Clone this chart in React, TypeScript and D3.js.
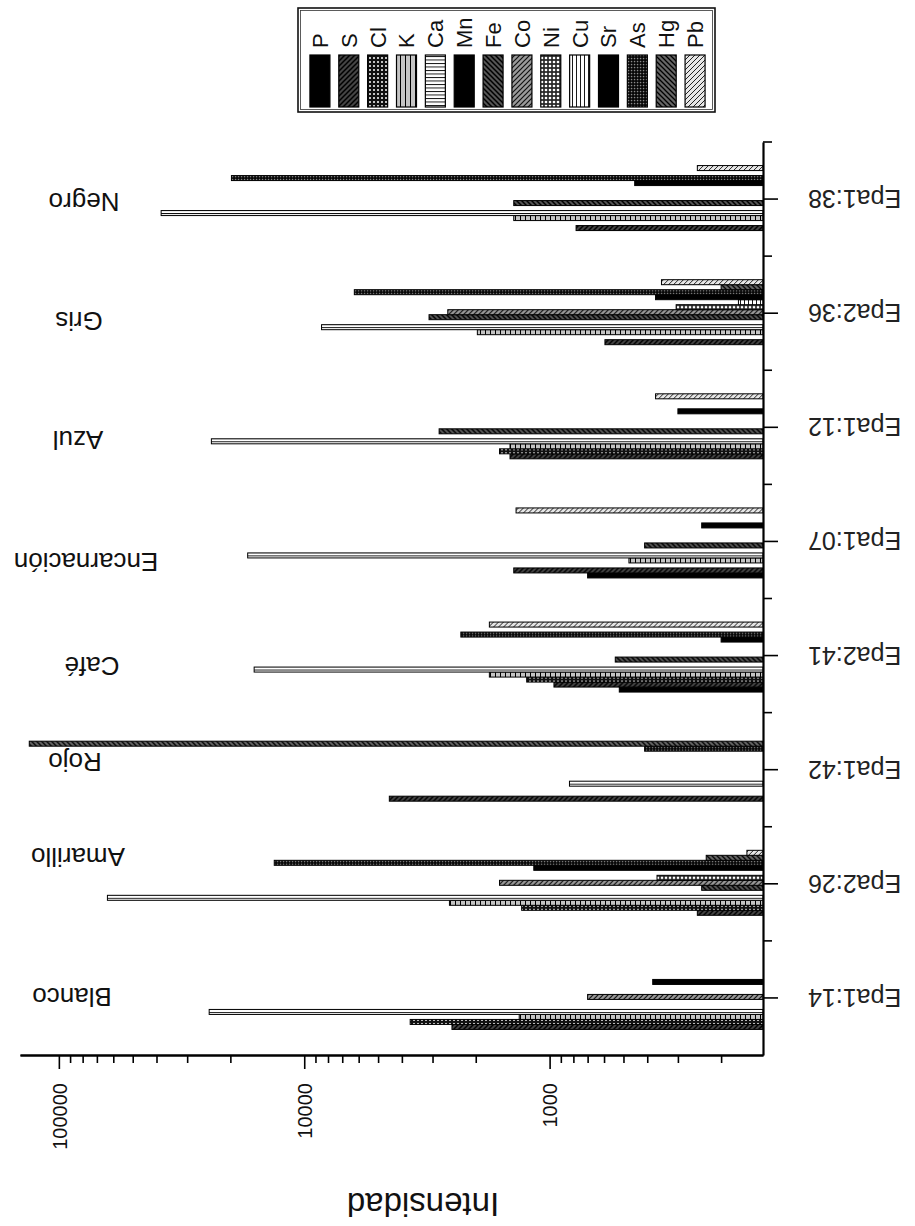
import * as d3 from 'd3';
import React, { useEffect, useRef } from 'react';

const elements = ['P', 'S', 'Cl', 'K', 'Ca', 'Mn', 'Fe', 'Co', 'Ni', 'Cu', 'Sr', 'As', 'Hg', 'Pb'];
const samples = ['Epa1:14', 'Epa2:26', 'Epa1:42', 'Epa2:41', 'Epa1:07', 'Epa1:12', 'Epa2:36', 'Epa1:38'];
const colourNames = ['Blanco', 'Amarillo', 'Rojo', 'Café', 'Encarnación', 'Azul', 'Gris', 'Negro'];

// intensity of each element, one value per sample (0 = not detected)
const P = [0, 0, 0, 520, 700, 0, 0, 0];
const S = [2500, 250, 4500, 960, 1400, 1450, 595, 780];
const Cl = [3700, 1300, 0, 1240, 0, 1600, 0, 0];
const K = [1330, 2560, 0, 1760, 475, 1450, 1970, 1400];
const Ca = [24400, 63400, 830, 16000, 17000, 23900, 8500, 38300];
const Mn = [0, 0, 0, 0, 0, 0, 0, 0];
const Fe = [0, 240, 0, 540, 410, 2820, 3100, 1400];
const Co = [700, 1600, 0, 0, 0, 0, 2600, 0];
const Ni = [0, 365, 0, 0, 0, 0, 305, 0];
const Cu = [0, 0, 0, 0, 0, 0, 170, 0];
const Sr = [380, 1160, 0, 200, 240, 300, 370, 450];
const As = [0, 13250, 410, 2300, 0, 0, 6250, 19800];
const Hg = [0, 230, 132000, 0, 0, 0, 200, 0];
const Pb = [0, 157, 0, 1760, 1370, 370, 350, 250];

const series = [P, S, Cl, K, Ca, Mn, Fe, Co, Ni, Cu, Sr, As, Hg, Pb];

const majorTicks = [1000, 10000, 100000];
const minorTicks = [200, 300, 400, 500, 600, 700, 800, 900, 2000, 3000, 4000, 5000, 6000, 7000, 8000, 9000,
  20000, 30000, 40000, 50000, 60000, 70000, 80000, 90000];

// where the colour names sit (offset from the group centre), layout only
const nameX = [72, 78, 75, 92, 86, 78, 79, 84];
const nameDy = [-1, -26, -7, 11, 21, 13, 8, 3];

const FONT = '"Liberation Sans", Arial, sans-serif';
const axisX = 763;
const plotTop = 142;
const plotBottom = 1055;
const plotLeft = 20;

const fills = {
  P: '#000', S: 'url(#pS)', Cl: 'url(#pCl)', K: 'url(#pK)', Ca: 'url(#pCa)', Mn: '#000', Fe: 'url(#pFe)',
  Co: 'url(#pCo)', Ni: 'url(#pNi)', Cu: 'url(#pCu)', Sr: '#000', As: 'url(#pAs)', Hg: 'url(#pHg)', Pb: 'url(#pPb)',
};

const Patterns = () => (
  <defs>
    <pattern id="pS" width="5" height="5" patternUnits="userSpaceOnUse">
      <rect width="5" height="5" fill="#444" />
      <path d="M0,5L5,0M-1,1L1,-1M4,6L6,4" stroke="#000" strokeWidth="1.5" />
    </pattern>
    <pattern id="pCl" width="4" height="4" patternUnits="userSpaceOnUse">
      <rect width="4" height="4" fill="#111" />
      <circle cx="2" cy="2" r="1" fill="#fff" />
    </pattern>
    <pattern id="pK" width="5" height="5" patternUnits="userSpaceOnUse">
      <rect width="5" height="5" fill="#c4c4c4" />
      <path d="M0.5,0V5" stroke="#000" strokeWidth="1" />
    </pattern>
    <pattern id="pCa" width="3.5" height="3.5" patternUnits="userSpaceOnUse">
      <rect width="3.5" height="3.5" fill="#fff" />
      <path d="M0,0.5H3.5" stroke="#000" strokeWidth="0.9" />
    </pattern>
    <pattern id="pFe" width="5" height="5" patternUnits="userSpaceOnUse">
      <rect width="5" height="5" fill="#555" />
      <path d="M0,0L5,5M-1,4L1,6M4,-1L6,1" stroke="#000" strokeWidth="1.5" />
    </pattern>
    <pattern id="pCo" width="5" height="5" patternUnits="userSpaceOnUse">
      <rect width="5" height="5" fill="#9a9a9a" />
      <path d="M0,5L5,0M-1,1L1,-1M4,6L6,4" stroke="#111" strokeWidth="1.2" />
    </pattern>
    <pattern id="pNi" width="4" height="4" patternUnits="userSpaceOnUse">
      <rect width="4" height="4" fill="#2a2a2a" />
      <circle cx="2" cy="2" r="1.3" fill="#fff" />
    </pattern>
    <pattern id="pCu" width="4" height="4" patternUnits="userSpaceOnUse">
      <rect width="4" height="4" fill="#fff" />
      <path d="M0.5,0V4" stroke="#000" strokeWidth="0.9" />
    </pattern>
    <pattern id="pAs" width="3" height="3" patternUnits="userSpaceOnUse">
      <rect width="3" height="3" fill="#000" />
      <rect x="0.8" y="0.8" width="1.5" height="1.5" fill="#8a8a8a" />
    </pattern>
    <pattern id="pHg" width="5" height="5" patternUnits="userSpaceOnUse">
      <rect width="5" height="5" fill="#666" />
      <path d="M0,0L5,5M-1,4L1,6M4,-1L6,1" stroke="#000" strokeWidth="1.3" />
    </pattern>
    <pattern id="pPb" width="5" height="5" patternUnits="userSpaceOnUse">
      <rect width="5" height="5" fill="#e6e6e6" />
      <path d="M0,5L5,0M-1,1L1,-1M4,6L6,4" stroke="#222" strokeWidth="1" />
    </pattern>
  </defs>
);

export default function App() {
  const xAxisRef = useRef<SVGGElement>(null);
  const yAxisRef = useRef<SVGGElement>(null);

  const x = d3.scaleLog().domain([135, 144000]).range([axisX, plotLeft]);
  const order = [...samples].reverse();
  const y = d3.scaleBand().domain(order).range([plotTop, plotBottom]);
  const inner = d3.scaleBand().domain([...elements].reverse()).range([-33.5, 36.5]);
  const lx = d3.scaleBand().domain(elements).range([305.5, 709.5]);

  useEffect(() => {
    const gx = d3.select(xAxisRef.current);
    gx.selectAll('*').remove();
    gx.append('g')
      .call(d3.axisBottom(x).tickValues(minorTicks).tickSize(8).tickSizeOuter(0).tickFormat(() => ''));
    const major = gx.append('g')
      .call(d3.axisBottom(x).tickValues(majorTicks).tickSize(14).tickSizeOuter(0).tickFormat(d3.format('d')));
    major.selectAll('text')
      .attr('transform', 'rotate(-90)')
      .attr('x', -28)
      .attr('y', 0)
      .attr('dy', '0.36em')
      .attr('text-anchor', 'end')
      .attr('fill', '#111')
      .style('font-size', '20px');
    gx.selectAll('.domain').attr('stroke-width', 2.2);
    gx.selectAll('.tick line').attr('stroke-width', 1.6);
    gx.attr('font-family', FONT);

    const gy = d3.select(yAxisRef.current);
    gy.selectAll('*').remove();
    gy.append('g')
      .call(d3.axisRight(y).tickSize(15).tickSizeOuter(0))
      .selectAll('text')
      .attr('transform', 'translate(45,0) rotate(180)')
      .attr('x', 0)
      .attr('dy', '0.36em')
      .attr('text-anchor', 'end')
      .attr('fill', '#222')
      .style('font-size', '25px');
    gy.selectAll('.minor')
      .data(order)
      .join('line')
      .attr('class', 'minor')
      .attr('x1', 0)
      .attr('x2', 9)
      .attr('y1', (d) => y(d))
      .attr('y2', (d) => y(d))
      .attr('stroke', '#000')
      .attr('stroke-width', 1.6);
    gy.selectAll('.domain').attr('stroke-width', 2.2);
    gy.selectAll('.tick line').attr('stroke-width', 1.6);
    gy.attr('font-family', FONT);
  }, []);

  return (
    <svg width={915} height={1226} style={{ position: 'absolute', left: 0, top: 0, background: '#fff' }}>
      <Patterns />
      <rect width={915} height={1226} fill="#fff" />

      {/* legend */}
      <g>
        <rect x={298} y={8} width={417} height={104} fill="#fff" stroke="#111" strokeWidth={1.6} />
        <rect x={300.5} y={10.5} width={412} height={99} fill="none" stroke="#333" strokeWidth={0.8} />
        {elements.map((el) => {
          const sx = lx(el) + (lx.bandwidth() - 20) / 2;
          return (
            <g key={el}>
              <rect x={sx} y={55} width={20} height={52} fill={fills[el]} stroke="#000" strokeWidth={1.2} />
              <text
                transform={`translate(${sx + 10},48) rotate(-90)`}
                dy="0.36em"
                fontFamily={FONT}
                fontSize={22}
                fill="#111"
              >
                {el}
              </text>
            </g>
          );
        })}
      </g>

      {/* bars */}
      {samples.map((s, j) => (
        <g key={s} transform={`translate(0,${y(s) + y.bandwidth() / 2})`}>
          {elements.map((el, i) => {
            const v = series[i][j];
            if (!v) return null;
            return (
              <rect
                key={el}
                x={x(v)}
                width={axisX - x(v)}
                y={inner(el)}
                height={inner.bandwidth()}
                fill={fills[el]}
                stroke="#000"
                strokeWidth={1}
              />
            );
          })}
        </g>
      ))}

      {/* colour names */}
      {samples.map((s, j) => (
        <text
          key={s}
          transform={`translate(${nameX[j]},${y(s) + y.bandwidth() / 2 + nameDy[j]}) rotate(180)`}
          dy="0.36em"
          textAnchor="middle"
          fontFamily={FONT}
          fontSize={26}
          fill="#111"
        >
          {colourNames[j]}
        </text>
      ))}

      <g ref={yAxisRef} transform={`translate(${axisX},0)`} />
      <g ref={xAxisRef} transform={`translate(0,${plotBottom})`} />

      <text
        transform={`translate(423,1205) rotate(180)`}
        dy="0.36em"
        textAnchor="middle"
        fontFamily={FONT}
        fontSize={33}
        fill="#111"
      >
        Intensidad
      </text>
    </svg>
  );
}
